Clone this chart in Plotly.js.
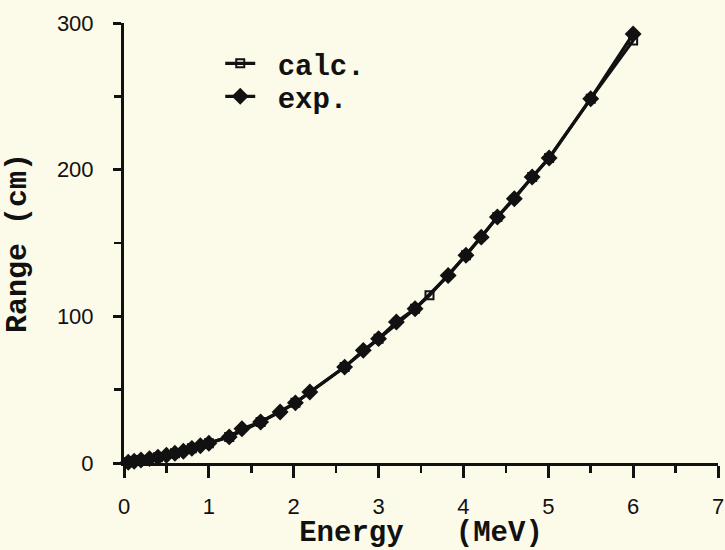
<!DOCTYPE html>
<html>
<head>
<meta charset="utf-8">
<script src="https://cdn.plot.ly/plotly-3.0.1.min.js"></script>
<style>html,body{margin:0;padding:0;background:#fcfae9;}</style>
</head>
<body>
<div id="chart" style="width:725px;height:550px;"></div>
<script>
// Experimental points (Energy MeV, Range cm)
var expEnergy = [0.05, 0.12, 0.2, 0.3, 0.4, 0.5, 0.6, 0.7, 0.8, 0.9, 1.0, 1.24, 1.39, 1.61, 1.84, 2.02, 2.19, 2.60, 2.82, 3.0, 3.21, 3.43, 3.82, 4.03, 4.21, 4.40, 4.60, 4.81, 5.01, 5.50, 6.0];
var expRange  = [0.5, 1.2, 2.0, 3.0, 4.0, 5.3, 6.6, 8.0, 10.0, 11.8, 13.5, 17.8, 23.4, 28.0, 34.8, 41.0, 48.4, 65.4, 76.8, 84.8, 96.1, 105.2, 127.8, 141.6, 154.0, 167.7, 180.2, 195.0, 208.0, 248.4, 292.5];
// Calculated curve
var calcEnergy = [0.05, 0.2, 0.4, 0.6, 0.8, 1.0, 1.24, 1.61, 2.02, 2.60, 3.0, 3.43, 3.60, 4.03, 4.40, 4.81, 5.01, 5.50, 6.0];
var calcRange  = [0.5, 2.0, 4.0, 6.6, 10.0, 13.5, 17.8, 28.0, 41.0, 65.4, 84.8, 105.2, 114.3, 141.6, 167.7, 195.0, 208.0, 248.4, 288.0];
var xTicks = [0, 1, 2, 3, 4, 5, 6, 7];
var yTicks = [0, 100, 200, 300];
var seriesNames = ['\u00a0calc.', '\u00a0exp.'];

var ink = '#111111';
var mono = '"Liberation Mono", "Courier New", monospace';
var sans = '"Liberation Sans", Arial, Helvetica, sans-serif';

var traces = [
  {
    x: calcEnergy, y: calcRange, name: seriesNames[0], type: 'scatter', mode: 'lines+markers',
    line: {color: ink, width: 3.2},
    marker: {symbol: 'square-open', size: 8, color: ink, line: {width: 2, color: ink}},
    cliponaxis: false, legend: 'legend'
  },
  {
    x: expEnergy, y: expRange, name: seriesNames[1], type: 'scatter', mode: 'lines+markers',
    line: {color: ink, width: 3.2},
    marker: {symbol: 'diamond', size: 13, color: ink, line: {width: 0}},
    cliponaxis: false, legend: 'legend2'
  }
];

var legendFont = {family: mono, size: 29, color: ink, weight: 'bold'};

var layout = {
  width: 725, height: 550,
  margin: {l: 124, r: 7, t: 23, b: 87},
  paper_bgcolor: '#fcfae9', plot_bgcolor: '#fcfae9',
  font: {family: sans, color: ink, size: 22},
  showlegend: true,
  legend: {
    x: 0.162, y: 0.966, xanchor: 'left', yanchor: 'top',
    bgcolor: 'rgba(0,0,0,0)', borderwidth: 0,
    font: legendFont, itemwidth: 30
  },
  legend2: {
    x: 0.162, y: 0.891, xanchor: 'left', yanchor: 'top',
    bgcolor: 'rgba(0,0,0,0)', borderwidth: 0,
    font: legendFont, itemwidth: 30
  },
  xaxis: {
    range: [0, 7], tickvals: xTicks, ticktext: xTicks.map(String),
    showline: true, linewidth: 3, linecolor: ink, zeroline: false, showgrid: false,
    ticks: 'outside', ticklen: 12, tickwidth: 3, tickcolor: ink,
    ticklabelstandoff: 10, ticklabeloverflow: 'allow',
    minor: {dtick: 0.5, ticks: 'outside', ticklen: 7, tickwidth: 2.5, tickcolor: ink, showgrid: false},
    tickfont: {family: sans, size: 22, color: ink},
    title: {text: 'Energy   (MeV)', font: {family: mono, size: 29, color: ink, weight: 'bold'}, standoff: 6}
  },
  yaxis: {
    range: [0, 300], tickvals: yTicks, ticktext: yTicks.map(String),
    showline: true, linewidth: 3, linecolor: ink, zeroline: false, showgrid: false,
    ticks: 'outside', ticklen: 8, tickwidth: 3, tickcolor: ink,
    ticklabelstandoff: 15,
    minor: {dtick: 50, ticks: 'outside', ticklen: 7, tickwidth: 2.5, tickcolor: ink, showgrid: false},
    tickfont: {family: sans, size: 22, color: ink},
    title: {text: 'Range (cm)', font: {family: mono, size: 30, color: ink, weight: 'bold'}, standoff: 22}
  }
};

Plotly.newPlot('chart', traces, layout, {displayModeBar: false, staticPlot: true});
</script>
</body>
</html>
